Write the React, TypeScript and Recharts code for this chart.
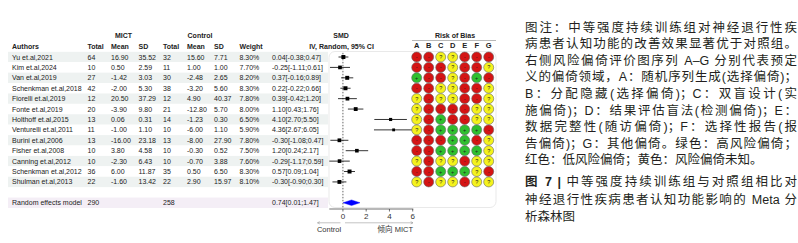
import React from 'react';
import { ComposedChart, Scatter, XAxis, YAxis, ErrorBar, ReferenceLine } from 'recharts';

// study table
const authors = [
  'Yu et.al,2021', 'Kim et.al,2024', 'Van et.al,2019', 'Schenkman et.al,2018', 'Fiorelli et.al,2019',
  'Fonte et.al,2019', 'Holthoff et.al,2015', 'Venturelli et.al,2011', 'Burini et.al,2006', 'Fisher et.al,2008',
  'Canning et.al,2012', 'Schenkman et.al,2012', 'Shulman et.al,2013',
];
const mictTotal = [64, 10, 27, 42, 12, 20, 13, 11, 13, 10, 10, 36, 22];
const mictMean = [16.9, 0.5, -1.42, -2.0, 20.5, -3.9, 0.06, -1.0, -16.0, 3.8, -2.3, 6.0, -1.6];
const mictSd = [35.52, 2.59, 3.03, 5.3, 37.29, 9.8, 0.31, 1.1, 23.18, 4.58, 6.43, 11.87, 13.42];
const ctrlTotal = [32, 11, 30, 38, 12, 21, 14, 10, 13, 10, 10, 35, 22];
const ctrlMean = [15.6, 1.0, -2.48, -3.2, 4.9, -12.8, -1.23, -6.0, -8.0, -0.3, -0.7, 0.5, 2.9];
const ctrlSd = [7.71, 1.0, 2.65, 5.6, 40.37, 5.7, 0.3, 1.1, 27.9, 0.52, 3.88, 6.5, 15.97];
const weights = [8.3, 7.7, 8.2, 8.3, 7.8, 8.0, 6.5, 5.9, 7.8, 7.5, 7.6, 8.3, 8.1];
const smd = [0.04, -0.25, 0.37, 0.22, 0.39, 1.1, 4.1, 4.36, -0.3, 1.2, -0.29, 0.57, -0.3];
const ciLow = [-0.38, -1.11, -0.16, -0.22, -0.42, 0.43, 2.7, 2.67, -1.08, 0.24, -1.17, 0.09, -0.9];
const ciHigh = [0.47, 0.61, 0.89, 0.66, 1.2, 1.76, 5.5, 6.05, 0.47, 2.17, 0.59, 1.04, 0.3];

// pooled estimate
const pooledLabel = 'Random effects model';
const pooledTotals = [290, 258];
const pooledCi = [0.74, 0.01, 1.47];

// risk of bias, R = red, G = green, Y = yellow
const robDomains = ['A', 'B', 'C', 'D', 'E', 'F', 'G'];
const robRows = [
  'RRYYRRR', 'RRRYRRY', 'GRRYRGR', 'RRYYRRY', 'YRYYRRY', 'YRRRRYY', 'YRGRRYY',
  'YRGGGGR', 'RRRGGRY', 'RRGGGGY', 'YRYYRYY', 'RRGGGYR', 'YRYYRYY',
];
const xTicks = [0, 2, 4, 6];

const captionA = [
  '图注：中等强度持续训练组对神经退行性疾',
  '病患者认知功能的改善效果显著优于对照组。',
  '右侧风险偏倚评价图序列 A–G 分别代表预定',
  '义的偏倚领域，A：随机序列生成(选择偏倚)；',
  'B：分配隐藏(选择偏倚)；C：双盲设计(实',
  '施偏倚)；D：结果评估盲法(检测偏倚)；E：',
  '数据完整性(随访偏倚)；F：选择性报告(报',
  '告偏倚)；G：其他偏倚。绿色：高风险偏倚；',
  '红色：低风险偏倚；黄色：风险偏倚未知。',
];
const captionB = [
  '中等强度持续训练组与对照组相比对',
  '神经退行性疾病患者认知功能影响的 Meta 分',
  '析森林图',
];

const FONT = '"Liberation Sans", Arial, sans-serif';
const POOLED_ROW = 15;

const cols = { author: 12, mT: 87.5, mM: 111, mS: 138.5, cT: 163, cM: 187, cS: 214, w: 239.5, ci: 272 };

const f2 = (v: number) => v.toFixed(2);

const tableRows = authors.map((a, i) => ({
  x: 0,
  row: i + 1,
  cells: [
    [cols.author, a], [cols.mT, String(mictTotal[i])], [cols.mM, f2(mictMean[i])], [cols.mS, f2(mictSd[i])],
    [cols.cT, String(ctrlTotal[i])], [cols.cM, f2(ctrlMean[i])], [cols.cS, f2(ctrlSd[i])],
    [cols.w, f2(weights[i]) + '%'], [cols.ci, `${f2(smd[i])}[${f2(ciLow[i])};${f2(ciHigh[i])}]`],
  ],
  band: i % 2 === 0 ? '#eef2f1' : '#ffffff',
}));
tableRows.push({
  x: 0,
  row: POOLED_ROW,
  cells: [
    [cols.author, pooledLabel], [cols.mT, String(pooledTotals[0])], [cols.cT, String(pooledTotals[1])],
    [cols.ci, `${f2(pooledCi[0])}[${f2(pooledCi[1])};${f2(pooledCi[2])}]`],
  ],
  band: '#f4eef6',
});

const studies = authors.map((a, i) => ({
  x: smd[i],
  row: i + 1,
  weight: weights[i],
  err: [smd[i] - ciLow[i], ciHigh[i] - smd[i]],
}));

const diamond = [
  { x: pooledCi[1], row: POOLED_ROW },
  { x: pooledCi[0], row: POOLED_ROW - 0.27 },
  { x: pooledCi[2], row: POOLED_ROW },
  { x: pooledCi[0], row: POOLED_ROW + 0.27 },
];

const robPoints = robRows.flatMap((r, i) => r.split('').map((v, j) => ({ x: j, row: i + 1, v })));

const robFill: Record<string, string> = { R: '#d41414', G: '#2fbf2f', Y: '#f4f21c' };
const robMark: Record<string, string> = { R: '-', G: '+', Y: '?' };

function TableRow(props: any) {
  const { cy, payload } = props;
  return (
    <g>
      <rect x={8} y={cy - 5.2} width={320} height={10.4} fill={payload.band} />
      {payload.cells.map(([x, t]: [number, string], k: number) => (
        <text key={k} x={x} y={cy + 2.5} fontSize={7} fontFamily={FONT} fill="#222">{t}</text>
      ))}
    </g>
  );
}

function StudyBox(props: any) {
  const { cx, cy, payload } = props;
  const s = payload.weight * 0.48;
  return <rect x={cx - s / 2} y={cy - s / 2} width={s} height={s} fill="#000" />;
}

function RobDot(props: any) {
  const { cx, cy, payload } = props;
  return (
    <g>
      <circle cx={cx} cy={cy} r={5} fill={robFill[payload.v]} stroke="#666" strokeWidth={0.6} />
      <text x={cx} y={cy + 2} fontSize={5.5} textAnchor="middle" fontFamily={FONT} fill="#222">{robMark[payload.v]}</text>
    </g>
  );
}

function DiamondShape(props: any) {
  const pts = props.points.map((p: any) => `${p.x},${p.y}`).join(' ');
  return <polygon points={pts} fill="#0000ff" stroke="#0000ff" strokeWidth={0.4} />;
}

const hText = { fontSize: 7, fontWeight: 700, fontFamily: FONT, fill: '#222' } as const;

const captionStyle = {
  position: 'absolute' as const,
  left: 525,
  width: 272,
  fontFamily: '"Liberation Sans", "Noto Sans CJK SC", sans-serif',
  fontSize: 12.5,
  color: '#231f20',
};

export default function App() {
  return (
    <div style={{ position: 'relative', width: 798, height: 243, background: '#fff', overflow: 'hidden' }}>
      <style>{'body{margin:0}'}</style>
      <svg width={798} height={243} style={{ position: 'absolute', left: 0, top: 0 }}>
        <rect x={329} y={51.5} width={167} height={156} rx={6} fill="#fff" stroke="#e3e3e3" strokeWidth={0.8} />
      </svg>

      <div style={{ position: 'absolute', left: 0, top: 0 }}>
        <ComposedChart width={798} height={243} margin={{ top: 46.6, right: 384.7, bottom: 14, left: 329.3 }}>
          <XAxis
            type="number"
            dataKey="x"
            domain={[-1.17, 6.05]}
            ticks={xTicks}
            height={20}
            tickSize={2.5}
            tickMargin={1.5}
            tick={{ fontSize: 8, fill: '#333', fontFamily: FONT }}
            axisLine={{ stroke: '#333', strokeWidth: 0.7 }}
            tickLine={{ stroke: '#333', strokeWidth: 0.7 }}
          />
          <YAxis type="number" dataKey="row" domain={[0, 15.6]} reversed hide />
          <Scatter data={tableRows} shape={TableRow} isAnimationActive={false} />
          <ReferenceLine
            segment={[{ x: 0, y: 0.6 }, { x: 0, y: 15.5 }]}
            stroke="#222"
            strokeWidth={0.7}
            strokeDasharray="1.5 1.5"
          />
          <Scatter data={studies} shape={StudyBox} isAnimationActive={false}>
            <ErrorBar dataKey="err" direction="x" width={0} stroke="#000" strokeWidth={0.8} />
          </Scatter>
          <Scatter data={diamond} shape={() => <g />} line={DiamondShape} isAnimationActive={false} />
        </ComposedChart>
      </div>

      <div style={{ position: 'absolute', left: 0, top: 0 }}>
        <ComposedChart width={798} height={243} margin={{ top: 41.8, right: 303.3, bottom: 34, left: 410.7 }}>
          <XAxis
            type="number"
            dataKey="x"
            orientation="top"
            domain={[-0.5, 6.5]}
            ticks={[0, 1, 2, 3, 4, 5, 6]}
            interval={0}
            tickFormatter={(v: number) => robDomains[v]}
            height={10}
            tickSize={0}
            tickMargin={3.5}
            axisLine={false}
            tickLine={false}
            tick={{ fontSize: 7.5, fontWeight: 700, fill: '#222', fontFamily: FONT }}
          />
          <YAxis type="number" dataKey="row" domain={[0.5, 15.6]} reversed hide />
          <Scatter data={robPoints} shape={RobDot} isAnimationActive={false} />
        </ComposedChart>
      </div>

      <svg width={798} height={243} style={{ position: 'absolute', left: 0, top: 0 }}>
        <text x={123.5} y={37.5} textAnchor="middle" {...hText}>MICT</text>
        <text x={200} y={37.5} textAnchor="middle" {...hText}>Control</text>
        <text x={341} y={37.5} textAnchor="middle" {...hText}>SMD</text>
        <text x={455} y={37.5} textAnchor="middle" {...hText}>Risk of Bias</text>
        <line x1={412} x2={496} y1={40.5} y2={40.5} stroke="#999" strokeWidth={0.7} />
        <text x={cols.author} y={48.5} {...hText}>Authors</text>
        <text x={cols.mT} y={48.5} {...hText}>Total</text>
        <text x={cols.mM} y={48.5} {...hText}>Mean</text>
        <text x={cols.mS} y={48.5} {...hText}>SD</text>
        <text x={cols.cT} y={48.5} {...hText}>Total</text>
        <text x={cols.cM} y={48.5} {...hText}>Mean</text>
        <text x={cols.cS} y={48.5} {...hText}>SD</text>
        <text x={cols.w} y={48.5} {...hText}>Weight</text>
        <text x={341.5} y={48.5} textAnchor="middle" {...hText}>IV, Random, 95% CI</text>

        <g stroke="#9a9a9a" strokeWidth={0.6} fill="none">
          <line x1={340.5} x2={317.5} y1={222.8} y2={222.8} />
          <polyline points="319.8,221.6 317.5,222.8 319.8,224" />
          <line x1={345} x2={413} y1={222.8} y2={222.8} />
          <polyline points="410.7,221.6 413,222.8 410.7,224" />
        </g>
        <text x={329} y={231.5} textAnchor="middle" fontSize={7.5} fontFamily={FONT} fill="#333">Control</text>
        <text x={413} y={231.5} textAnchor="end" fontSize={7.5} fontFamily={`${FONT}, "Noto Sans CJK SC"`} fill="#333">倾向 MICT</text>
      </svg>

      <div style={{ ...captionStyle, top: 19.7, lineHeight: '16.6px' }}>
        {captionA.map((t, i) => (
          <div key={i} style={{ textAlign: 'justify', textAlignLast: i === captionA.length - 1 ? 'left' : 'justify', whiteSpace: 'nowrap' }}>{t}</div>
        ))}
      </div>
      <div style={{ ...captionStyle, top: 174.3, lineHeight: '17.5px' }}>
        {captionB.map((t, i) => (
          <div key={i} style={{ textAlign: 'justify', textAlignLast: i === captionB.length - 1 ? 'left' : 'justify', whiteSpace: 'nowrap' }}>
            {i === 0 && <span style={{ fontWeight: 700 }}>图 7 | </span>}
            {t}
          </div>
        ))}
      </div>
    </div>
  );
}
